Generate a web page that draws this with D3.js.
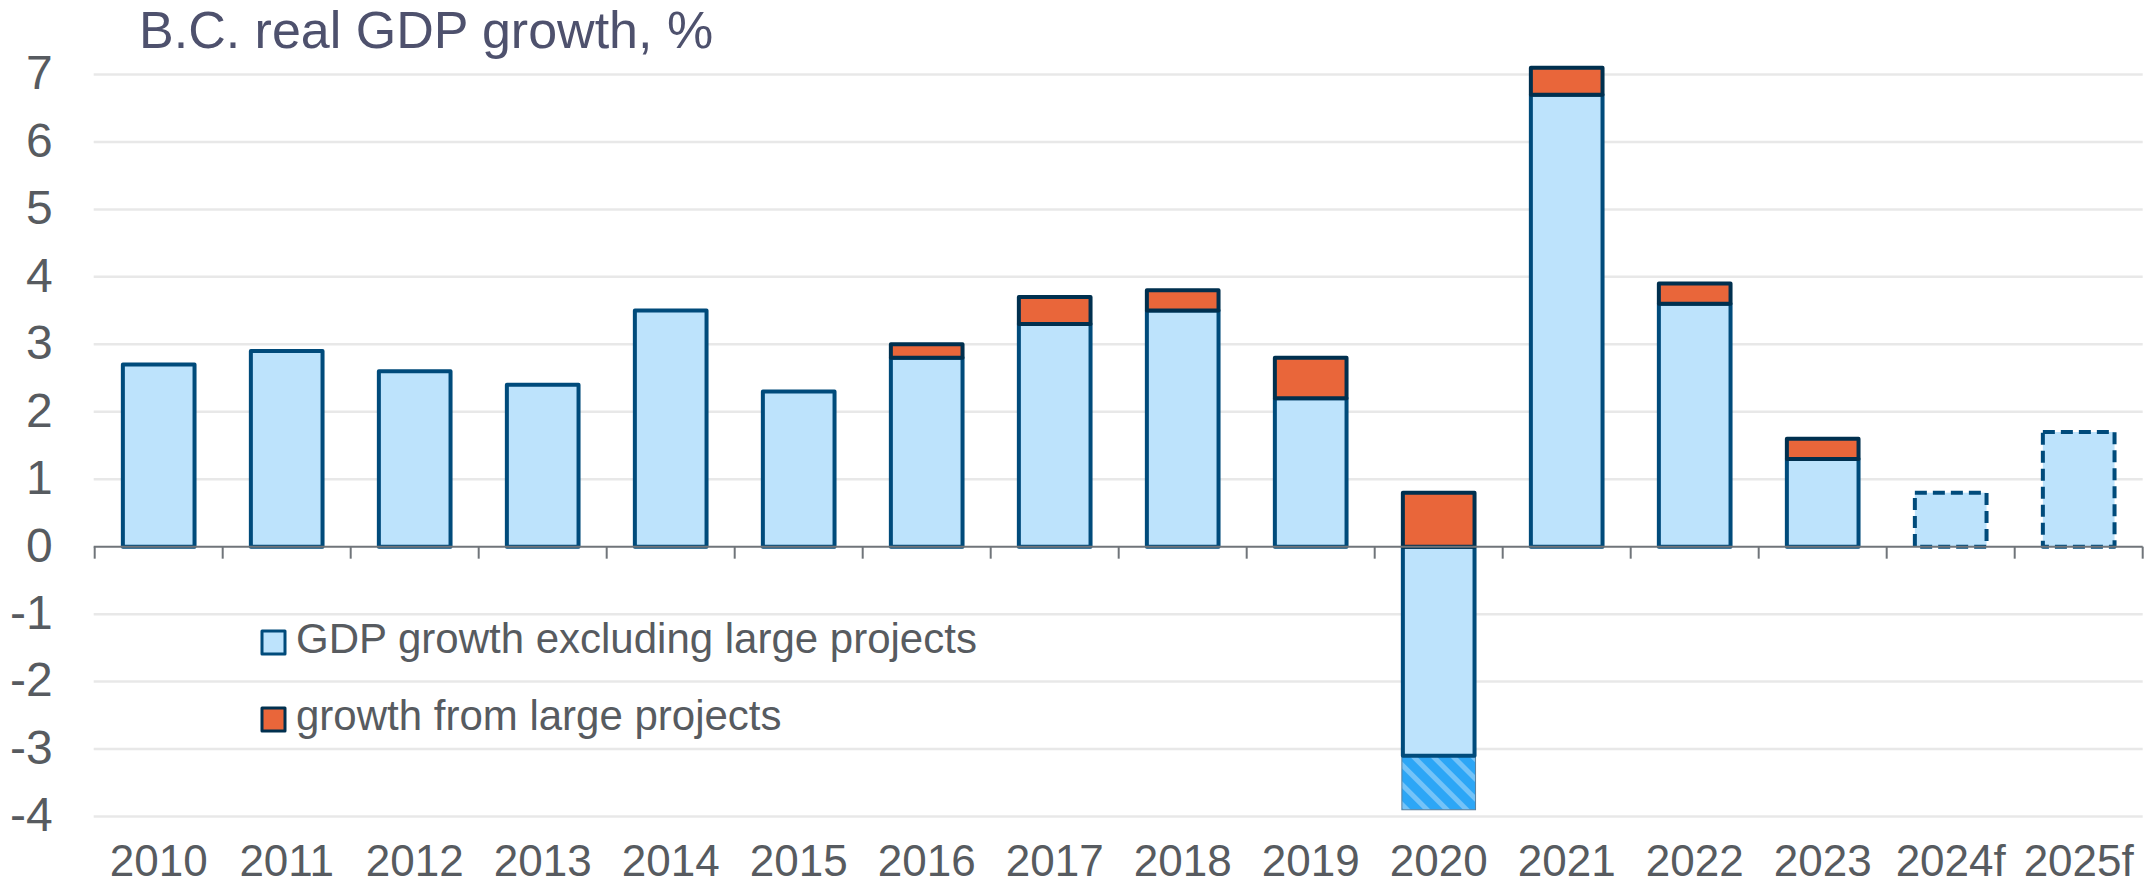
<!DOCTYPE html>
<html>
<head>
<meta charset="utf-8">
<script src="https://cdn.jsdelivr.net/npm/d3@7"></script>
<style>
  body { margin: 0; background: #fff; }
  svg { display: block; font-family: "Liberation Sans", Arial, sans-serif; }
  .grid line { stroke: #e8e8e8; stroke-width: 2.5; }
  .y-axis text { fill: #575b60; font-size: 48px; }
  .x-axis text { fill: #575b60; font-size: 44px; }
  .title { fill: #4e516d; font-size: 52px; }
  .legend text { fill: #575b60; font-size: 42px; }
</style>
</head>
<body>
<script>
// categories + series
var years = ["2010","2011","2012","2013","2014","2015","2016","2017","2018","2019","2020","2021","2022","2023","2024f","2025f"];
var baseGrowth = [2.7, 2.9, 2.6, 2.4, 3.5, 2.3, 2.8, 3.3, 3.5, 2.2, -3.1, 6.7, 3.6, 1.3, 0.8, 1.7];
var projectGrowth = [0, 0, 0, 0, 0, 0, 0.2, 0.4, 0.3, 0.6, 0.8, 0.4, 0.3, 0.3, 0, 0];
var offsetGrowth = [0, 0, 0, 0, 0, 0, 0, 0, 0, 0, -0.8, 0, 0, 0, 0, 0]; // hatched part under 2020
var isForecast = [false, false, false, false, false, false, false, false, false, false, false, false, false, false, true, true];
var yTicks = [-4, -3, -2, -1, 0, 1, 2, 3, 4, 5, 6, 7];
var legendLabels = ["GDP growth excluding large projects", "growth from large projects"];

window.onload = function(){
  var w = 2144;
  var h = 886;
  var margin = {top: 74.5, bottom: 69.5, left: 94.7, right: 1.3};

  var data = years.map(function(y, i){
    return {key: y, base: baseGrowth[i], proj: projectGrowth[i], offset: offsetGrowth[i], fc: isForecast[i]};
  });

  var x = d3.scaleBand()
          .domain(years)
          .range([margin.left, w - margin.right])
          .paddingInner(0.44)
          .paddingOuter(0.22);

  var y = d3.scaleLinear()
          .domain([-4, 7])
          .range([h - margin.bottom, margin.top]);

  var svg = d3.select('body').append('svg')
              .attr('width', w)
              .attr('height', h);

  // hatch for the 2020 piece
  var pat = svg.append('defs').append('pattern')
              .attr('id', 'hatch')
              .attr('patternUnits', 'userSpaceOnUse')
              .attr('width', 14)
              .attr('height', 14)
              .attr('patternTransform', 'rotate(-45)');
  pat.append('rect').attr('width', 14).attr('height', 14).attr('fill', '#2ca6f6');
  pat.append('rect').attr('width', 5).attr('height', 14).attr('fill', '#74c3f8');

  // gridlines (zero handled by axis line)
  svg.append('g')
    .classed('grid', true)
    .selectAll('line')
    .data(yTicks.filter(function(d){ return d !== 0; }))
    .enter()
    .append('line')
    .attr('x1', margin.left - 1)
    .attr('x2', w - margin.right)
    .attr('y1', function(d){ return y(d); })
    .attr('y2', function(d){ return y(d); });

  // y labels, plain hyphen for negatives like the original
  var yAxis = svg.append('g')
    .classed('y-axis', true)
    .attr('transform', 'translate(' + margin.left + ',0)')
    .call(d3.axisLeft(y).tickValues(yTicks).tickSize(0).tickPadding(42).tickFormat(function(d){ return String(d); }));
  yAxis.select('.domain').remove();
  yAxis.selectAll('text')
    .attr('dy', '0.3em')
    .style('font-family', 'inherit');

  var bars = svg.append('g');

  // hatched offset piece
  bars.selectAll('.offset')
    .data(data.filter(function(d){ return d.offset !== 0; }))
    .enter()
    .append('rect')
    .classed('offset', true)
    .attr('x', function(d){ return x(d.key) - 1; })
    .attr('width', x.bandwidth() + 2)
    .attr('y', function(d){ return y(d.base); })
    .attr('height', function(d){ return y(d.base + d.offset) - y(d.base); })
    .attr('fill', 'url(#hatch)')
    .attr('stroke', '#5b7f9c')
    .attr('stroke-width', 1);

  // base growth
  bars.selectAll('.base')
    .data(data)
    .enter()
    .append('rect')
    .classed('base', true)
    .attr('x', function(d){ return x(d.key); })
    .attr('width', x.bandwidth())
    .attr('y', function(d){ return y(Math.max(0, d.base)); })
    .attr('height', function(d){ return Math.abs(y(d.base) - y(0)); })
    .attr('fill', '#bde3fc')
    .attr('stroke', '#004b7b')
    .attr('stroke-width', 4)
    .attr('stroke-linejoin', 'round')
    .attr('stroke-dasharray', function(d){ return d.fc ? '12,6' : null; });

  // large projects, stacked on the positive side
  bars.selectAll('.proj')
    .data(data.filter(function(d){ return d.proj > 0; }))
    .enter()
    .append('rect')
    .classed('proj', true)
    .attr('x', function(d){ return x(d.key); })
    .attr('width', x.bandwidth())
    .attr('y', function(d){ return y(Math.max(0, d.base) + d.proj); })
    .attr('height', function(d){ return y(0) - y(d.proj); })
    .attr('fill', '#e9663a')
    .attr('stroke', '#00304f')
    .attr('stroke-width', 4)
    .attr('stroke-linejoin', 'round');

  // x axis: labels from the band scale, ticks at category boundaries
  var xAxis = svg.append('g')
    .classed('x-axis', true)
    .attr('transform', 'translate(0,' + y(0) + ')')
    .call(d3.axisBottom(x).tickSize(0).tickPadding(0));
  xAxis.select('.domain').remove();
  xAxis.selectAll('text')
    .attr('y', 876 - y(0))
    .attr('dy', 0)
    .style('font-family', 'inherit');

  var step = x.step();
  var bounds = d3.range(years.length + 1).map(function(i){ return margin.left + i * step; });
  svg.append('g')
    .selectAll('line')
    .data(bounds)
    .enter()
    .append('line')
    .attr('x1', function(d){ return d; })
    .attr('x2', function(d){ return d; })
    .attr('y1', y(0))
    .attr('y2', y(0) + 12)
    .attr('stroke', '#70757a')
    .attr('stroke-width', 2);

  svg.append('line')
    .attr('x1', margin.left - 1)
    .attr('x2', w - margin.right)
    .attr('y1', y(0))
    .attr('y2', y(0))
    .attr('stroke', '#70757a')
    .attr('stroke-width', 2);

  svg.append('text')
    .classed('title', true)
    .attr('x', 139)
    .attr('y', 47.5)
    .text('B.C. real GDP growth, %');

  // legend
  var legend = svg.append('g').classed('legend', true);
  var swatchFill = ['#bde3fc', '#e9663a'];
  var swatchStroke = ['#004b7b', '#00304f'];
  var rows = legend.selectAll('g')
    .data(legendLabels)
    .enter()
    .append('g')
    .attr('transform', function(d, i){ return 'translate(262,' + (631 + i * 77) + ')'; });
  rows.append('rect')
    .attr('width', 23)
    .attr('height', 23)
    .attr('fill', function(d, i){ return swatchFill[i]; })
    .attr('stroke', function(d, i){ return swatchStroke[i]; })
    .attr('stroke-width', 3)
    .attr('stroke-linejoin', 'round');
  rows.append('text')
    .attr('x', 34)
    .attr('y', 22)
    .text(function(d){ return d; });
};
</script>
</body>
</html>
